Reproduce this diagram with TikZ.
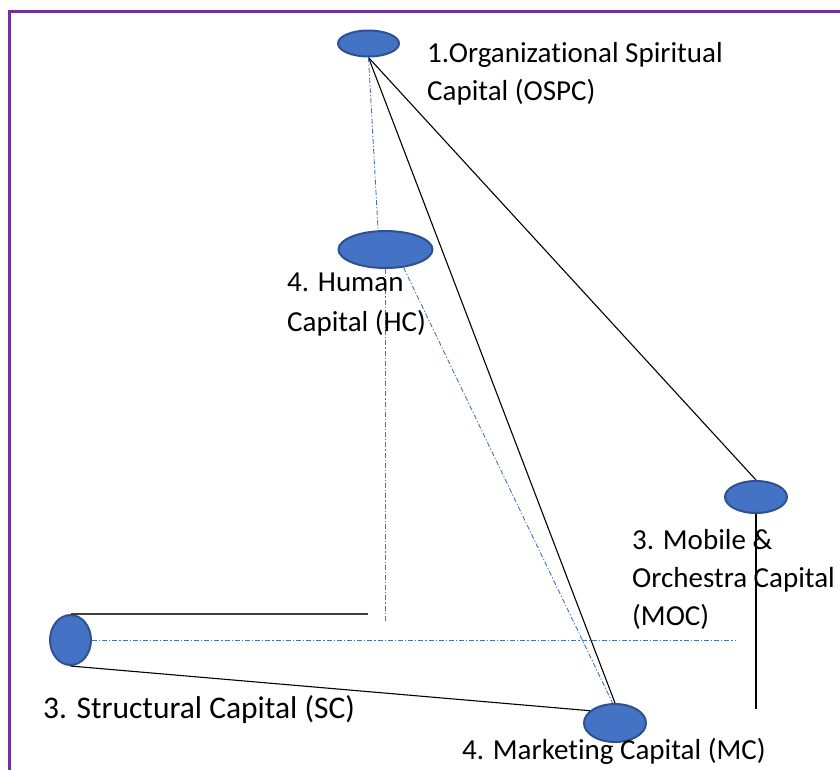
\documentclass[tikz,border=0pt]{standalone}
\usepackage{fontspec}
\setmainfont{Carlito}[Ligatures=NoCommon]
\usetikzlibrary{shapes.geometric,calc}
\definecolor{ovfill}{HTML}{4472C4}
\definecolor{ovdraw}{HTML}{2F528F}
\definecolor{framec}{HTML}{7030A0}
\tikzset{
  oval/.style={ellipse, fill=ovfill, draw=ovdraw, line width=2pt, inner sep=0pt},
  lbl/.style={anchor=base west, inner sep=0pt, font=\fontsize{29}{38}\selectfont},
  blk/.style={black, line width=1.1pt},
  dd/.style={ovfill, line width=0.9pt, dash pattern=on 5pt off 2pt on 1.2pt off 2pt},
}
\begin{document}
\begin{tikzpicture}[x=1pt, y=-1pt]
\useasboundingbox (0,0) rectangle (840,769);
% frame
\draw[framec, line width=3pt] (9,771) -- (9,11) -- (842,11);
% ovals
\node[oval, minimum width=61pt, minimum height=26pt] (ospc) at (368.5,43.5) {};
\node[oval, minimum width=94pt, minimum height=37pt] (hc) at (385.5,249.5) {};
\node[oval, minimum width=62pt, minimum height=32pt] (moc) at (756,497) {};
\node[oval, minimum width=41pt, minimum height=50pt] (sc) at (70.5,640) {};
\node[oval, minimum width=62pt, minimum height=38pt] (mc) at (615,723) {};
% free ends
\coordinate (hcend) at (385.5,622);
\coordinate (sctop) at (368,614);
\coordinate (scmid) at (735,640);
\coordinate (mocend) at (756,709);
% connectors
\draw[blk] (ospc.south) -- (moc.north);
\draw[blk] (ospc.south) -- (mc.north);
\draw[dd] (ospc.south) -- (hc.111);
\draw[dd] (hc.south) -- (hcend);
\draw[dd] (hc.-45) -- (mc.97);
\draw[black!75, line width=1.4pt] (sc.north) -- (sctop);
\draw[dd] (sc.east) -- (scmid);
\draw[blk] (sc.south) -- (mc.154);
\draw[blk] (moc.south) -- (mocend);
% labels
\node[lbl] (l1a) at (427,62) {1.Organizational Spiritual};
\node[lbl] (l1b) at (427,100) {Capital (OSPC)};
\node[lbl] (l2a) at (287,291) {4. Human};
\node[lbl] (l2b) at (287,331) {Capital (HC)};
\node[lbl] (l3a) at (632,549) {3. Mobile \&};
\node[lbl] (l3b) at (632,587) {Orchestra Capital};
\node[lbl] (l3c) at (632,625) {(MOC)};
\node[lbl, font=\fontsize{31.5}{38}\selectfont] (l4) at (43,718) {3. Structural Capital (SC)};
\node[lbl] (l5) at (462,759) {4. Marketing Capital (MC)};
\end{tikzpicture}
\end{document}
